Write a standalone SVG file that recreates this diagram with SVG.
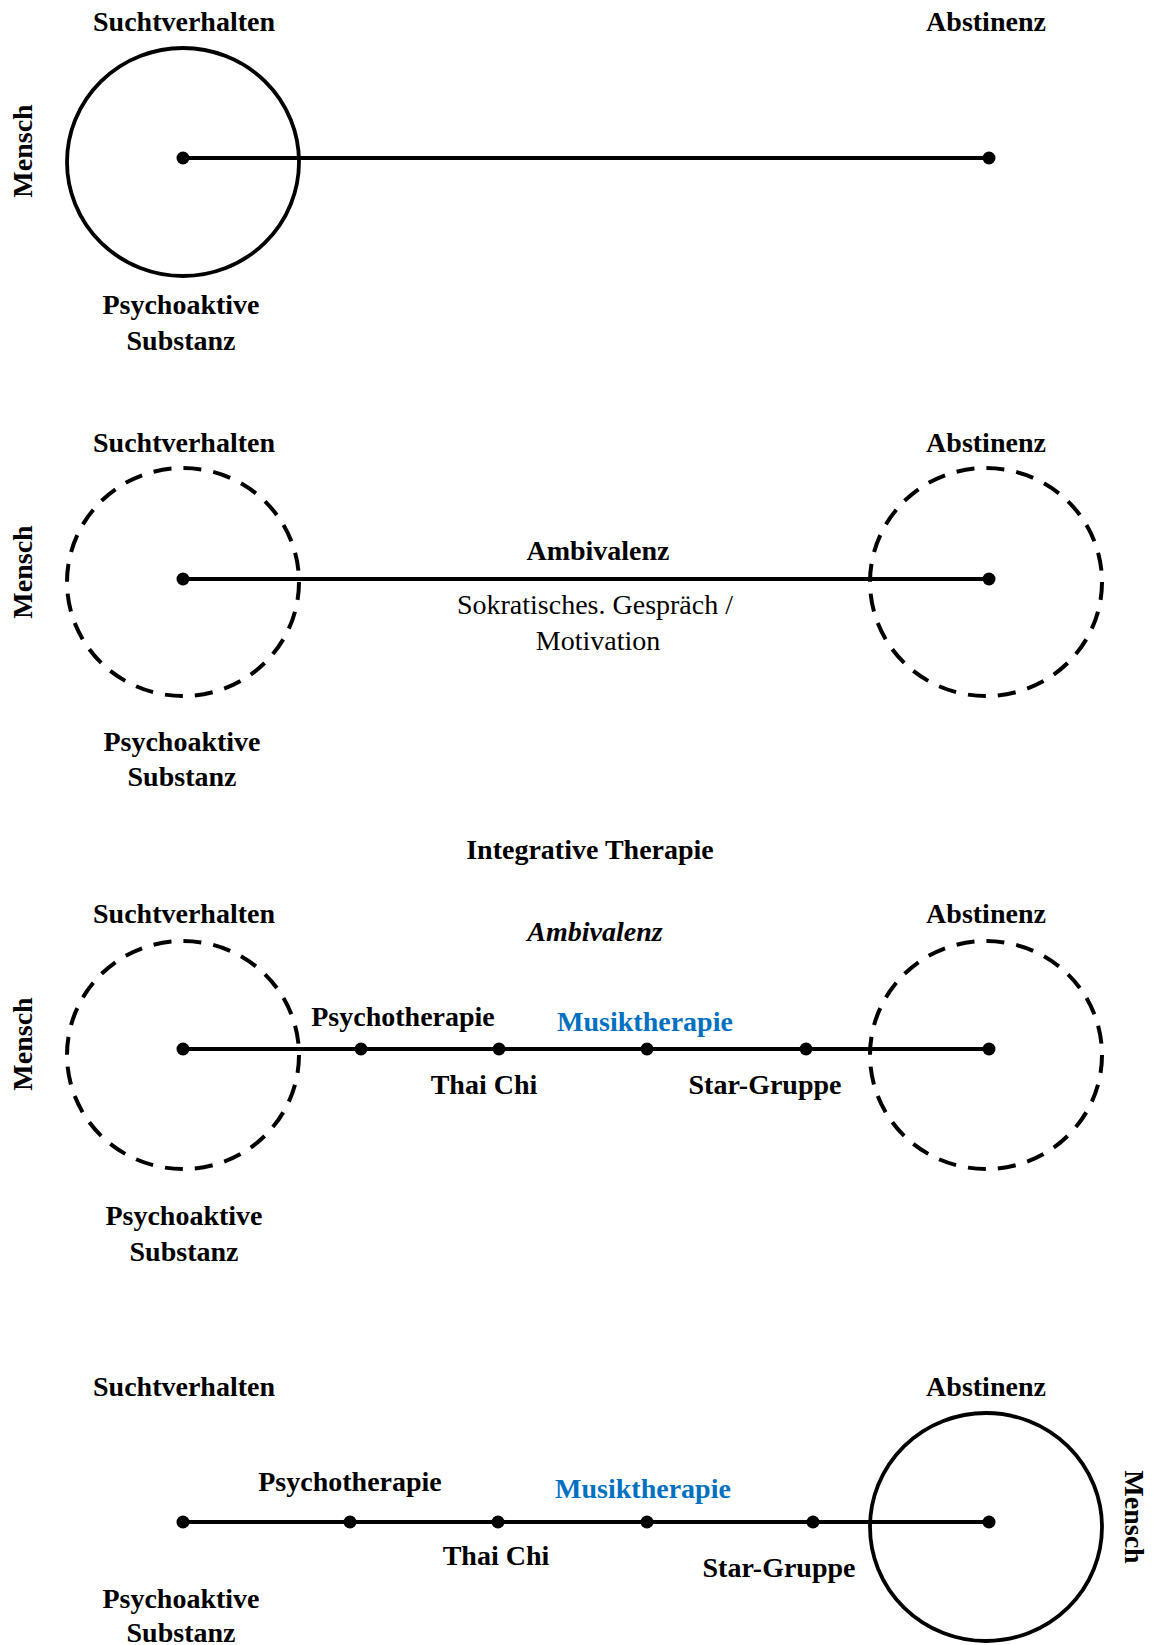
<svg xmlns="http://www.w3.org/2000/svg" width="1154" height="1645" viewBox="0 0 1154 1645">
  <style>
    .lbl { font-family: "Liberation Serif", "Times New Roman", serif; font-size: 28px; font-weight: bold; fill: #000; text-anchor: middle; }
    .reg { font-weight: normal; }
    .it { font-style: italic; }
    .blue { fill: #0070C0; }
    .ring { fill: none; stroke: #000; stroke-width: 3.8; }
    .dash { stroke-dasharray: 18 12.1; stroke-width: 4; }
    .axis { stroke: #000; stroke-width: 4; fill: none; }
    .dot { fill: #000; }
  </style>
  <rect width="1154" height="1645" fill="#fff"/>

  <!-- Stage 1: person inside addiction circle -->
  <g id="stage1">
    <g id="s1-person"><ellipse class="ring" cx="183" cy="162" rx="116" ry="114"/></g>
    <g id="s1-connectors"><line class="axis" x1="183" y1="158" x2="989" y2="158"/></g>
    <circle class="dot" cx="183" cy="158" r="6.5"/>
    <circle class="dot" cx="989" cy="158" r="6.5"/>
    <text class="lbl" x="184" y="31">Suchtverhalten</text>
    <text class="lbl" x="986" y="31">Abstinenz</text>
    <text class="lbl" transform="translate(32,151) rotate(-90)">Mensch</text>
    <text class="lbl" x="181" y="314">Psychoaktive</text>
    <text class="lbl" x="181" y="350">Substanz</text>
  </g>

  <!-- Stage 2: ambivalence between both poles -->
  <g id="stage2">
    <g id="s2-left"><ellipse class="ring dash" cx="183" cy="582" rx="116" ry="114"/></g>
    <g id="s2-right"><ellipse class="ring dash" cx="986" cy="582" rx="116" ry="114"/></g>
    <g id="s2-connectors"><line class="axis" x1="183" y1="579" x2="989" y2="579"/></g>
    <circle class="dot" cx="183" cy="579" r="6.5"/>
    <circle class="dot" cx="989" cy="579" r="6.5"/>
    <text class="lbl" x="184" y="452">Suchtverhalten</text>
    <text class="lbl" x="986" y="452">Abstinenz</text>
    <text class="lbl" transform="translate(32,572) rotate(-90)">Mensch</text>
    <text class="lbl" x="598" y="560">Ambivalenz</text>
    <text class="lbl reg" x="595" y="614">Sokratisches. Gespräch /</text>
    <text class="lbl reg" x="598" y="650">Motivation</text>
    <text class="lbl" x="182" y="751">Psychoaktive</text>
    <text class="lbl" x="182" y="786">Substanz</text>
  </g>

  <!-- Stage 3: integrative therapy steps -->
  <g id="stage3">
    <text class="lbl" x="590" y="859">Integrative Therapie</text>
    <g id="s3-left"><ellipse class="ring dash" cx="183" cy="1055" rx="116" ry="114"/></g>
    <g id="s3-right"><ellipse class="ring dash" cx="986" cy="1055" rx="116" ry="114"/></g>
    <g id="s3-connectors"><line class="axis" x1="183" y1="1049" x2="989" y2="1049"/></g>
    <circle class="dot" cx="183" cy="1049" r="6.5"/>
    <circle class="dot" cx="361" cy="1049" r="6.5"/>
    <circle class="dot" cx="499" cy="1049" r="6.5"/>
    <circle class="dot" cx="647" cy="1049" r="6.5"/>
    <circle class="dot" cx="806" cy="1049" r="6.5"/>
    <circle class="dot" cx="989" cy="1049" r="6.5"/>
    <text class="lbl" x="184" y="923">Suchtverhalten</text>
    <text class="lbl" x="986" y="923">Abstinenz</text>
    <text class="lbl it" x="595" y="941">Ambivalenz</text>
    <text class="lbl" transform="translate(32,1044) rotate(-90)">Mensch</text>
    <text class="lbl" x="403" y="1026">Psychotherapie</text>
    <text class="lbl blue" x="645" y="1031">Musiktherapie</text>
    <text class="lbl" x="484" y="1094">Thai Chi</text>
    <text class="lbl" x="765" y="1094">Star-Gruppe</text>
    <text class="lbl" x="184" y="1225">Psychoaktive</text>
    <text class="lbl" x="184" y="1261">Substanz</text>
  </g>

  <!-- Stage 4: person arrives at abstinence -->
  <g id="stage4">
    <g id="s4-person"><ellipse class="ring" cx="986" cy="1527" rx="116" ry="114"/></g>
    <g id="s4-connectors"><line class="axis" x1="183" y1="1522" x2="989" y2="1522"/></g>
    <circle class="dot" cx="183" cy="1522" r="6.5"/>
    <circle class="dot" cx="350" cy="1522" r="6.5"/>
    <circle class="dot" cx="498" cy="1522" r="6.5"/>
    <circle class="dot" cx="647" cy="1522" r="6.5"/>
    <circle class="dot" cx="813" cy="1522" r="6.5"/>
    <circle class="dot" cx="989" cy="1522" r="6.5"/>
    <text class="lbl" x="184" y="1396">Suchtverhalten</text>
    <text class="lbl" x="986" y="1396">Abstinenz</text>
    <text class="lbl" transform="translate(1125,1517) rotate(90)">Mensch</text>
    <text class="lbl" x="350" y="1491">Psychotherapie</text>
    <text class="lbl blue" x="643" y="1498">Musiktherapie</text>
    <text class="lbl" x="496" y="1565">Thai Chi</text>
    <text class="lbl" x="779" y="1577">Star-Gruppe</text>
    <text class="lbl" x="181" y="1608">Psychoaktive</text>
    <text class="lbl" x="181" y="1642">Substanz</text>
  </g>
</svg>
